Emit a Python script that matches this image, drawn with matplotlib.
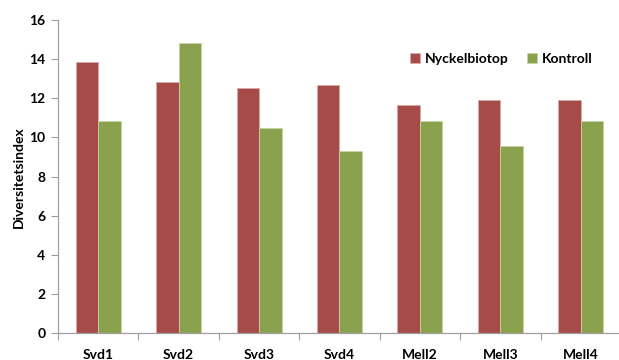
import matplotlib
matplotlib.use("Agg")
import matplotlib.pyplot as plt
import numpy as np

categories = ["Svd1", "Svd2", "Svd3", "Svd4", "Mell2", "Mell3", "Mell4"]
nyckelbiotop = [13.85, 12.85, 12.55, 12.7, 11.65, 11.9, 11.9]
kontroll = [10.85, 14.85, 10.5, 9.3, 10.85, 9.55, 10.85]
series_names = ["Nyckelbiotop", "Kontroll"]
yticks = [0, 2, 4, 6, 8, 10, 12, 14, 16]

plt.rcParams['font.family'] = ['Lato', 'DejaVu Sans']
plt.rcParams['font.weight'] = 'bold'

fig = plt.figure(figsize=(6.19, 3.6), dpi=100)
ax = fig.add_axes([58/619, 26.7/360, (621-58)/619, (333.3-20)/360])

x = np.arange(len(categories))
w = 0.28
red = "#A64B47"
green = "#8AA14E"
ax.bar(x - w/2, nyckelbiotop, w, color=red, edgecolor="#D9A9A7", linewidth=0.6, label=series_names[0])
ax.bar(x + w/2, kontroll, w, color=green, edgecolor="#C5D3A4", linewidth=0.6, label=series_names[1])

fs = 10
ax.set_xlim(-0.5, len(categories) - 0.5)
ax.set_ylim(0, 16)
ax.set_yticks(yticks)
ax.set_yticklabels([str(t) for t in yticks], fontsize=fs, fontweight='bold')
ax.set_xticks(x)
ax.set_xticklabels(categories, fontsize=fs, fontweight='bold')
ax.set_xticks(np.arange(len(categories) + 1) - 0.5, minor=True)
ax.tick_params(axis='x', which='major', length=0, pad=11)
ax.tick_params(axis='x', which='minor', length=5, color="#A0A0A0", width=0.8, direction='out')
ax.tick_params(axis='y', length=5, color="#A0A0A0", width=0.8, direction='out', pad=4)

for s in ['top', 'right']:
    ax.spines[s].set_visible(False)
for s in ['left', 'bottom']:
    ax.spines[s].set_color("#A0A0A0")
    ax.spines[s].set_linewidth(0.9)

ax.set_ylabel("Diversitetsindex", fontsize=fs, fontweight='bold', labelpad=3)

leg = ax.legend(loc='upper left', bbox_to_anchor=(0.603, 0.935), ncol=2, frameon=False,
                handlelength=0.7, handleheight=0.7, handletextpad=0.4,
                columnspacing=1.3, prop={'weight': 'bold', 'size': fs})

fig.savefig("out.png", dpi=100)
